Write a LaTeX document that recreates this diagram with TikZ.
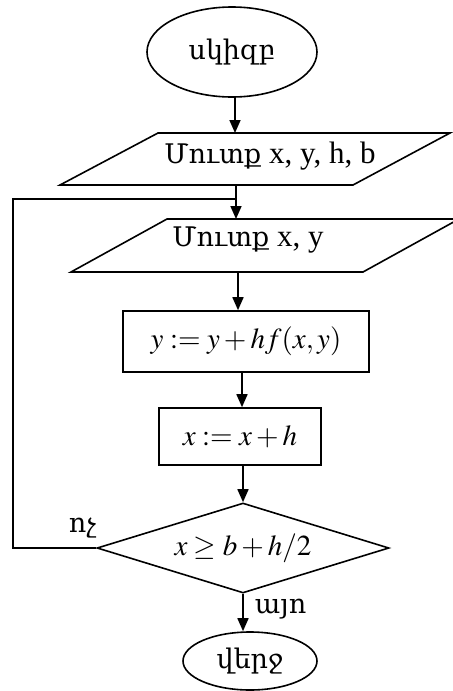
\documentclass[tikz,border=0pt]{standalone}
\usepackage{mathptmx}
\usepackage{fontspec}
\setmainfont{Liberation Serif}
\newfontfamily\armfont{DejaVu Serif}
\newcommand{\arm}[1]{{\fontsize{13.5}{16}\selectfont\armfont #1}}
\usetikzlibrary{shapes.geometric,arrows.meta,calc}
\begin{document}
\begin{tikzpicture}[x=0.5pt,y=-0.5pt,
  line width=0.8pt,
  every node/.style={font=\fontsize{15.5}{18}\selectfont},
  mathtxt/.style={font=\fontsize{14.5}{17}\selectfont},
  term/.style={draw,ellipse,inner sep=0pt},
  proc/.style={draw,rectangle,inner sep=0pt,mathtxt},
  dec/.style={draw,diamond,inner sep=0pt,aspect=3.24,minimum width=146pt,minimum height=45pt,mathtxt},
  txt/.style={inner sep=1pt},
  arr/.style={-{Triangle[length=6.5pt,width=5.5pt]}}]
\useasboundingbox (0,0) rectangle (453,691);
% start
\node[term,minimum width=85pt,minimum height=45pt] (start) at (232,52) {\arm{սկիզբ}};
% parallelogram 1
\coordinate (p1tl) at (158,133); \coordinate (p1tr) at (450,133);
\coordinate (p1br) at (353,185); \coordinate (p1bl) at (60,185);
\draw (p1tl) -- (p1tr) -- (p1br) -- (p1bl) -- cycle;
\coordinate (p1in) at (235,133); \coordinate (p1out) at (236,185);
\node[txt] (in1) at (270,156) {\arm{Մուտք} x, y, h, b};
% parallelogram 2
\coordinate (p2tl) at (167,219); \coordinate (p2tr) at (459,219);
\coordinate (p2br) at (363,272); \coordinate (p2bl) at (71,272);
\draw (p2tl) -- (p2tr) -- (p2br) -- (p2bl) -- cycle;
\coordinate (p2in) at (236,219); \coordinate (p2out) at (238,272);
\node[txt] (in2) at (248,240) {\arm{Մուտք} x, y};
% boxes
\node[proc,minimum width=123pt,minimum height=30.5pt] (b1) at (246,341.5) {$y := y + hf(x, y)$};
\node[proc,minimum width=81pt,minimum height=28.5pt] (b2) at (240,436.5) {$x := x + h$};
% decision
\node[dec] (d) at (243,548) {$x \geq b + h/2$};
% end
\node[term,minimum width=67pt,minimum height=29pt] (stop) at (250,661) {\arm{վերջ}};
% connectors
\coordinate (sb) at (235,97);
\draw[arr] (sb) -- (p1in);
\coordinate (loopj) at (236,199);
\draw[arr] (p1out) -- (p2in);
\draw[arr] (p2out) -- (b1.north -| p2out);
\draw[arr] (b1.south -| 242,0) -- (b2.north -| 242,0);
\draw[arr] (b2.south -| d.north) -- (d.north);
\draw[arr] (d.south) -- (stop.north -| d.south);
\coordinate (lc1) at (13,548); \coordinate (lc2) at (13,199);
\draw (d.west) -- (lc1) -- (lc2) -- (loopj);
\node[txt,anchor=south east] (no) at (99,541) {\arm{ոչ}};
\node[txt,anchor=west] (yes) at (252,609) {\arm{այո}};
\end{tikzpicture}
\end{document}
